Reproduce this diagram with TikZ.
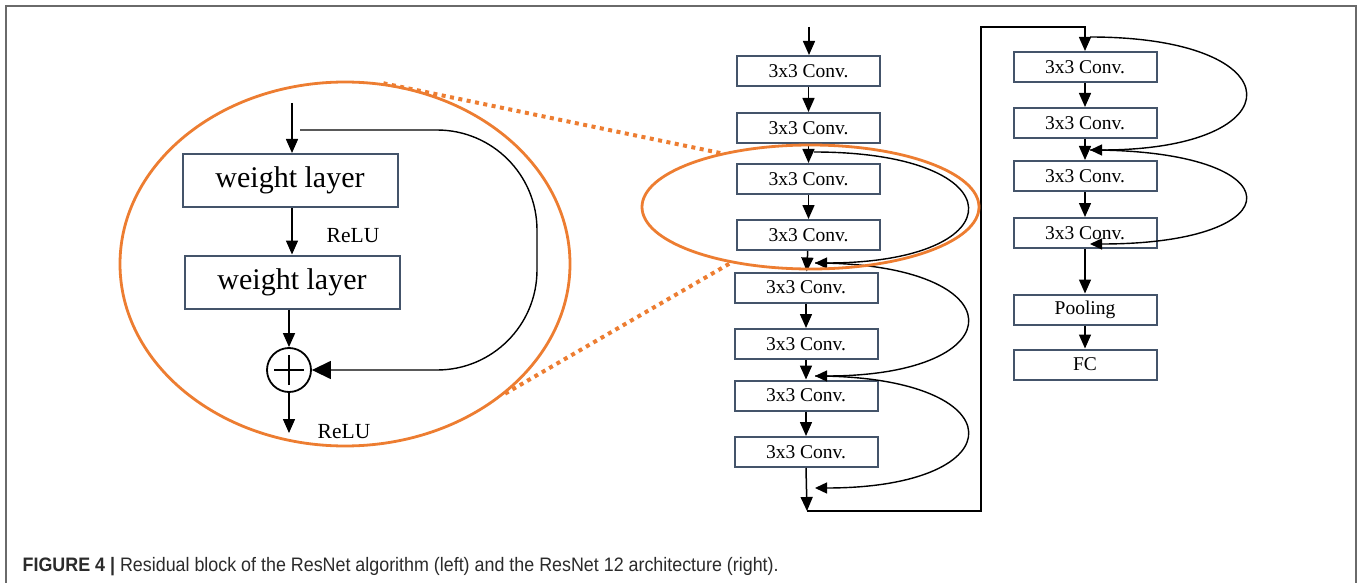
\documentclass[tikz,border=0pt]{standalone}
\usepackage{fontspec}
\usepackage{graphicx}
\setmainfont{Liberation Serif}
\newfontfamily\capfont{Liberation Sans}
\usetikzlibrary{shapes.geometric,arrows.meta}
\definecolor{boxblue}{HTML}{44546A}
\definecolor{accorange}{HTML}{ED7D31}
\definecolor{framegray}{HTML}{6A6A6A}
\definecolor{captext}{HTML}{2B2B2B}
\begin{document}
\begin{tikzpicture}[x=1pt,y=-1pt,
  convbox/.style={draw=boxblue, line width=2pt, minimum width=143pt, minimum height=30pt, inner sep=0pt, font=\fontsize{19.5}{22}\selectfont},
  wbox/.style={draw=boxblue, line width=2pt, minimum width=215pt, minimum height=53pt, inner sep=0pt, font=\fontsize{30}{34}\selectfont},
  conn/.style={line width=1.5pt, -{Triangle[length=14pt,width=12pt]}},
  skip/.style={line width=1.4pt, -{Triangle[length=12pt,width=11pt]}},
  zoomell/.style={ellipse, draw=accorange, line width=2.8pt, inner sep=0pt},
  zoomline/.style={accorange, line width=4pt, dash pattern=on 4pt off 4.5pt},
  lbl/.style={font=\fontsize{21.5}{24}\selectfont, inner sep=0pt}
]
\useasboundingbox (0,0) rectangle (1363,583);
\fill[white] (0,0) rectangle (1363,583);
% frame
\draw[framegray, line width=2pt] (6,583) -- (6,6) -- (1356,6) -- (1356,583);

% ---------- left: residual block ----------
\node[zoomell, minimum width=450pt, minimum height=364pt] (bigE) at (345,264) {};
\node[wbox] (wl1) at (290,180.5) {weight layer};
\node[wbox] (wl2) at (292,282) {weight layer};
\node[circle, draw, line width=1.8pt, minimum size=44pt, inner sep=0pt] (plus) at (289,370) {};
\draw[line width=2.2pt] ([xshift=-15pt]plus.center) -- ([xshift=15pt]plus.center);
\draw[line width=2.2pt] ([yshift=-15pt]plus.center) -- ([yshift=15pt]plus.center);
\node[lbl] (relu1) at (353,236) {ReLU};
\node[lbl] (relu2) at (344,432) {ReLU};
\coordinate (inL) at (292,103);
\coordinate (skipL) at (300,130);
\coordinate (outL) at (289,433);
\draw[conn] (inL) -- (inL |- wl1.north);
\draw[conn] (wl1.south -| inL) -- (wl2.north -| inL);
\draw[conn] (wl2.south -| plus) -- (plus.north);
\draw[conn] (plus.south) -- (outL);
\draw[line width=1.4pt, rounded corners=100pt, -{Triangle[length=19pt,width=18pt]}]
  (skipL) -- (537,130) -- (537,370) -- (plus.east);

% ---------- right: column 1 ----------
\node[convbox] (b1) at (808.5,71) {3x3 Conv.};
\node[convbox] (b2) at (808.5,128) {3x3 Conv.};
\node[convbox] (b3) at (808.5,179) {3x3 Conv.};
\node[convbox] (b4) at (808.5,235) {3x3 Conv.};
\node[convbox] (b5) at (806,287.5) {3x3 Conv.};
\node[convbox] (b6) at (806,344) {3x3 Conv.};
\node[convbox] (b7) at (806,395.5) {3x3 Conv.};
\node[convbox] (b8) at (806,452) {3x3 Conv.};
\coordinate (inR) at (809,27);
\draw[conn] (inR) -- (inR |- b1.north);
\draw[conn] (b1) -- (b2);
\draw[conn] (b2) -- (b3);
\draw[conn] (b3) -- (b4);
\draw[conn] (b4) -- (b5);
\draw[conn] (b5) -- (b6);
\draw[conn] (b6) -- (b7);
\draw[conn] (b7) -- (b8);
\coordinate (j1) at (814,152);
\coordinate (j2) at (815,263);
\coordinate (j3) at (815,376);
\coordinate (j4) at (815,488);
\draw[skip] (j1) .. controls (1018,152) and (1018,263) .. (j2);
\draw[skip] (j2) .. controls (1018,263) and (1018,376) .. (j3);
\draw[skip] (j3) .. controls (1018,376) and (1018,488) .. (j4);
\coordinate (loopA) at (807,511);
\coordinate (loopB) at (981,511);
\coordinate (loopC) at (981,27);
\coordinate (loopD) at (1085,27);
\draw[conn] (b8.south) -- (loopA);

% ---------- right: column 2 ----------
\node[convbox] (c1) at (1085,67) {3x3 Conv.};
\node[convbox] (c2) at (1085,123) {3x3 Conv.};
\node[convbox] (c3) at (1085,176) {3x3 Conv.};
\node[convbox] (c4) at (1085,233) {3x3 Conv.};
\node[convbox] (pool) at (1085,309.5) {Pooling};
\node[convbox] (fc) at (1085,364.5) {FC};
\draw[conn] (loopA) -- (loopB) -- (loopC) -- (loopD) -- (c1.north);
\draw[conn] (c1) -- (c2);
\draw[conn] (c2) -- (c3);
\draw[conn] (c3) -- (c4);
\draw[conn] (c4) -- (pool);
\draw[conn] (pool) -- (fc);
\coordinate (k1) at (1090,37);
\coordinate (k2) at (1090,150);
\coordinate (k3) at (1090,244);
\draw[skip] (k1) .. controls (1297,37) and (1297,150) .. (k2);
\draw[skip] (k2) .. controls (1297,150) and (1297,244) .. (k3);

% ---------- zoom ellipse and dotted guide lines ----------
\node[zoomell, minimum width=337pt, minimum height=124pt] (smallE) at (810.5,207) {};
\draw[zoomline] (bigE.78) -- (smallE.149);
\draw[zoomline] (bigE.-39) -- (smallE.215);

% ---------- caption ----------
\node[anchor=base west, inner sep=0pt, text=captext] (cap) at (22.5,571)
  {\resizebox{756pt}{\height}{\capfont\fontsize{19.5}{21}\selectfont\textbf{FIGURE 4 |} Residual block of the ResNet algorithm (left) and the ResNet 12 architecture (right).}};
\end{tikzpicture}
\end{document}
